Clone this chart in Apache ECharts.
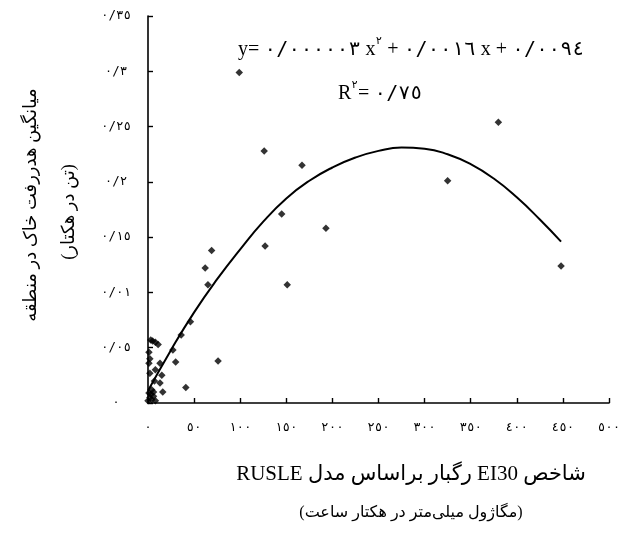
<!DOCTYPE html>
<html>
<head>
<meta charset="utf-8">
<script src="https://cdn.jsdelivr.net/npm/echarts@6/dist/echarts.min.js"></script>
<style>
html,body{margin:0;padding:0;background:#fff;}
#c{width:624px;height:535px;}
</style>
</head>
<body>
<div id="c"></div>
<script>
// ---- data ----
const xTickLabels = ['٠','٥٠','١٠٠','١٥٠','٢٠٠','٢٥٠','٣٠٠','٣٥٠','٤٠٠','٤٥٠','٥٠٠'];
const yTickLabels = ['٠','٠/٠٥','٠/٠١','٠/١٥','٠/٢','٠/٢٥','٠/٣','٠/٣٥'];

// observed points (EI30, soil loss)
const pointsX = [99,126,167,380,325,448,145,193,127,69,151,62,65,46,36,27,30,76,41,
  3,5,8,11,1,2,1,13,8,2,15,7,13,4,16,6,0,2,4,6,8,1,3];
const pointsY = [0.299,0.228,0.215,0.254,0.201,0.124,0.171,0.158,0.142,0.138,0.107,0.122,0.107,0.0735,0.0615,0.048,0.037,0.038,0.014,
  0.057,0.056,0.055,0.053,0.046,0.040,0.036,0.036,0.030,0.027,0.025,0.020,0.018,0.012,0.010,0.010,0.002,0.005,0.003,0.006,0.002,0.009,0.008];

// trend curve
const curveX = [0,25,50,75,100,125,150,175,200,225,250,275,300,325,350,375,400,425,448];
const curveY = [0.011,0.048,0.082,0.112,0.139,0.164,0.185,0.201,0.213,0.222,0.228,0.231,0.230,0.225,0.216,0.203,0.186,0.166,0.146];

// equation text parts
const eqParts = [
  ['l','y= '],['d','٠/٠٠٠٠٠٣'],['l',' x'],['s','٢'],['l',' + '],
  ['d','٠/٠٠١٦'],['l',' x + '],['d','٠/٠٠٩٤']
];
const r2Parts = [['l','R'],['s','٢'],['l','= '],['d','٠/٧٥']];
const xTitle1 = 'شاخص EI30 رگبار براساس مدل RUSLE';
const xTitle2 = '(مگاژول میلی‌متر در هکتار ساعت)';
const yTitle1 = 'میانگین هدررفت خاک در منطقه';
const yTitle2 = '(تن در هکتار)';

// ---- build ----
const SERIF = '"Liberation Serif","DejaVu Serif","DejaVu Sans",serif';
const DIG = '"DejaVu Sans Mono","DejaVu Sans",monospace';
const RLE = '\u202B', PDF = '\u202C';
const scatterData = pointsX.map((x,i)=>[x, pointsY[i]]);
const curveData = curveX.map((x,i)=>[x, curveY[i]]);

function richParts(parts){
  return parts.map(p=>'{'+p[0]+'|'+p[1]+'}').join('');
}
const eqRich = {
  l:{fontSize:20,fontFamily:SERIF,fill:'#000',verticalAlign:'bottom',lineHeight:24},
  d:{fontSize:20,fontFamily:DIG,fill:'#000',verticalAlign:'bottom',lineHeight:24},
  s:{fontSize:11,fontFamily:DIG,fill:'#000',verticalAlign:'top',lineHeight:24}
};

const chart = echarts.init(document.getElementById('c'), null, {renderer:'canvas'});
chart.setOption({
  backgroundColor:'#fff',
  animation:false,
  grid:{left:148,right:15,top:16,bottom:132},
  xAxis:{
    type:'value',min:0,max:500,interval:50,
    axisLine:{show:true,lineStyle:{color:'#000',width:1.6}},
    axisTick:{show:true,inside:true,length:5,lineStyle:{color:'#000',width:1.4}},
    splitLine:{show:false},
    axisLabel:{margin:18,color:'#000',fontSize:12.5,fontFamily:DIG,
      formatter:(v)=>xTickLabels[Math.round(v/50)]}
  },
  yAxis:{
    type:'value',min:0,max:0.35,interval:0.05,
    axisLine:{show:true,lineStyle:{color:'#000',width:1.6}},
    axisTick:{show:true,inside:true,length:5,lineStyle:{color:'#000',width:1.4}},
    splitLine:{show:false},
    axisLabel:{margin:32,align:'center',color:'#000',fontSize:12.5,fontFamily:DIG,
      formatter:(v)=>yTickLabels[Math.round(v/0.05)]}
  },
  series:[
    {type:'scatter',data:scatterData,symbol:'diamond',symbolSize:7.5,
      itemStyle:{color:'#000'},z:3},
    {type:'line',data:curveData,smooth:0.5,showSymbol:false,
      lineStyle:{color:'#000',width:2},z:2}
  ],
  graphic:[
    {type:'text',left:238,top:36,style:{text:richParts(eqParts),rich:eqRich}},
    {type:'text',left:338,top:80,style:{text:richParts(r2Parts),rich:eqRich}},
    {type:'text',x:411,y:474,style:{
      text:RLE+xTitle1+PDF,align:'center',verticalAlign:'middle',
      fontSize:21,fontFamily:SERIF,fill:'#000'}},
    {type:'text',x:411,y:513,style:{
      text:RLE+xTitle2+PDF,align:'center',verticalAlign:'middle',
      fontSize:16,fontFamily:SERIF,fill:'#000'}},
    {type:'text',x:31,y:205,rotation:Math.PI/2,style:{
      text:yTitle1,align:'center',verticalAlign:'middle',
      fontSize:18,fontFamily:SERIF,fill:'#000'}},
    {type:'text',x:69,y:212,rotation:Math.PI/2,style:{
      text:yTitle2,align:'center',verticalAlign:'middle',
      fontSize:18,fontFamily:SERIF,fill:'#000'}}
  ]
});
</script>
</body>
</html>
